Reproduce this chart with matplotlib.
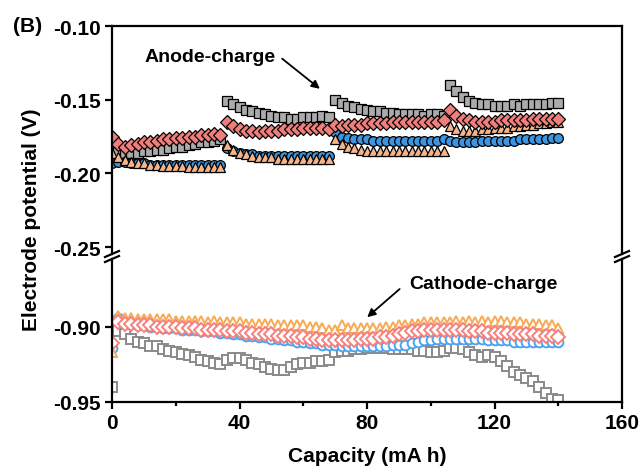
import matplotlib
matplotlib.use("Agg")
import matplotlib.pyplot as plt
from matplotlib.lines import Line2D

plt.rcParams["font.family"] = ["Liberation Sans", "DejaVu Sans"]
plt.rcParams["font.weight"] = "bold"
plt.rcParams["font.size"] = 15

# capacity grid (mA h), shared by all series
cap = [0, 2, 4, 6, 8, 10, 12, 14, 16, 18, 20, 22, 24, 26, 28, 30, 32, 34,
       36, 38, 40, 42, 44, 46, 48, 50, 52, 54, 56, 58, 60, 62, 64, 66, 68,
       70, 72, 74, 76, 78, 80, 82, 84, 86, 88, 90, 92, 94, 96, 98, 100, 102, 104,
       106, 108, 110, 112, 114, 116, 118, 120, 122, 124, 126, 128, 130, 132, 134, 136, 138, 140]

# anode-charge potentials (V), four cycles of ~35 mA h each
anode_gray = [-0.183, -0.185, -0.186, -0.186, -0.186, -0.185, -0.185, -0.184, -0.184, -0.183, -0.182, -0.182, -0.181, -0.180, -0.179, -0.179, -0.178, -0.177,
              -0.151, -0.153, -0.155, -0.157, -0.158, -0.159, -0.160, -0.161, -0.162, -0.162, -0.163, -0.163, -0.162, -0.162, -0.162, -0.161, -0.162,
              -0.150, -0.152, -0.154, -0.155, -0.156, -0.157, -0.158, -0.158, -0.159, -0.159, -0.160, -0.160, -0.160, -0.160, -0.161, -0.160, -0.160, -0.161,
              -0.140, -0.144, -0.148, -0.151, -0.152, -0.153, -0.153, -0.154, -0.154, -0.154, -0.153, -0.154, -0.153, -0.153, -0.153, -0.153, -0.152, -0.152]
anode_red = [-0.175, -0.180, -0.182, -0.181, -0.180, -0.179, -0.179, -0.178, -0.177, -0.177, -0.176, -0.176, -0.175, -0.175, -0.174, -0.174, -0.173, -0.174,
             -0.165, -0.168, -0.170, -0.171, -0.171, -0.172, -0.171, -0.171, -0.171, -0.170, -0.170, -0.170, -0.169, -0.169, -0.169, -0.169, -0.170,
             -0.167, -0.168, -0.167, -0.167, -0.167, -0.166, -0.166, -0.166, -0.166, -0.165, -0.165, -0.165, -0.165, -0.165, -0.165, -0.165, -0.165, -0.164,
             -0.157, -0.161, -0.163, -0.164, -0.165, -0.165, -0.165, -0.165, -0.164, -0.164, -0.164, -0.164, -0.164, -0.163, -0.163, -0.163, -0.163, -0.163]
anode_blue = [-0.193, -0.192, -0.192, -0.193, -0.193, -0.193, -0.194, -0.194, -0.194, -0.194, -0.194, -0.194, -0.194, -0.194, -0.194, -0.194, -0.194, -0.194,
              -0.183, -0.185, -0.186, -0.187, -0.187, -0.188, -0.188, -0.188, -0.188, -0.188, -0.188, -0.188, -0.188, -0.188, -0.188, -0.188, -0.188,
              -0.172, -0.175, -0.176, -0.177, -0.177, -0.177, -0.178, -0.178, -0.178, -0.178, -0.178, -0.178, -0.178, -0.178, -0.178, -0.178, -0.178, -0.177,
              -0.178, -0.179, -0.179, -0.179, -0.179, -0.178, -0.178, -0.178, -0.178, -0.178, -0.178, -0.177, -0.177, -0.177, -0.177, -0.177, -0.176, -0.176]
anode_orange = [-0.186, -0.189, -0.191, -0.192, -0.193, -0.193, -0.194, -0.194, -0.195, -0.195, -0.195, -0.195, -0.196, -0.196, -0.196, -0.196, -0.196, -0.196,
                -0.181, -0.184, -0.186, -0.187, -0.188, -0.189, -0.189, -0.189, -0.190, -0.190, -0.190, -0.190, -0.190, -0.190, -0.190, -0.190, -0.190,
                -0.177, -0.180, -0.182, -0.183, -0.184, -0.185, -0.185, -0.185, -0.185, -0.185, -0.185, -0.185, -0.185, -0.185, -0.185, -0.185, -0.185, -0.185,
                -0.168, -0.170, -0.171, -0.171, -0.171, -0.170, -0.170, -0.169, -0.169, -0.169, -0.168, -0.168, -0.167, -0.167, -0.166, -0.166, -0.165, -0.165]

# cathode-charge potentials (V)
cathode_gray = [-0.940, -0.903, -0.905, -0.908, -0.910, -0.911, -0.913, -0.913, -0.915, -0.916, -0.917, -0.918, -0.919, -0.920, -0.922, -0.923, -0.924, -0.925,
                -0.922, -0.921, -0.921, -0.922, -0.924, -0.925, -0.927, -0.928, -0.929, -0.929, -0.927, -0.925, -0.924, -0.924, -0.923, -0.923, -0.922,
                -0.917, -0.916, -0.916, -0.915, -0.915, -0.914, -0.914, -0.914, -0.914, -0.915, -0.915, -0.915, -0.915, -0.916, -0.916, -0.917, -0.917, -0.916,
                -0.914, -0.914, -0.915, -0.917, -0.919, -0.920, -0.919, -0.920, -0.923, -0.926, -0.930, -0.932, -0.934, -0.936, -0.940, -0.944, -0.948, -0.949]
cathode_red = [-0.911, -0.897, -0.898, -0.898, -0.899, -0.899, -0.899, -0.900, -0.900, -0.900, -0.900, -0.901, -0.901, -0.901, -0.902, -0.902, -0.902, -0.902,
               -0.903, -0.903, -0.903, -0.904, -0.904, -0.905, -0.905, -0.905, -0.906, -0.906, -0.906, -0.907, -0.907, -0.908, -0.908, -0.909, -0.909,
               -0.909, -0.909, -0.909, -0.909, -0.908, -0.908, -0.908, -0.907, -0.907, -0.906, -0.905, -0.904, -0.903, -0.903, -0.902, -0.902, -0.902, -0.902,
               -0.902, -0.902, -0.902, -0.903, -0.903, -0.903, -0.904, -0.904, -0.904, -0.904, -0.905, -0.905, -0.905, -0.905, -0.906, -0.906, -0.906, -0.907]
cathode_blue = [-0.914, -0.894, -0.897, -0.898, -0.899, -0.899, -0.900, -0.900, -0.901, -0.901, -0.901, -0.902, -0.902, -0.902, -0.903, -0.903, -0.903, -0.904,
                -0.904, -0.905, -0.905, -0.906, -0.906, -0.907, -0.907, -0.908, -0.908, -0.909, -0.909, -0.910, -0.910, -0.911, -0.911, -0.912, -0.912,
                -0.912, -0.913, -0.913, -0.913, -0.913, -0.913, -0.913, -0.913, -0.913, -0.912, -0.912, -0.912, -0.911, -0.910, -0.909, -0.909, -0.908, -0.908,
                -0.908, -0.908, -0.908, -0.908, -0.908, -0.908, -0.909, -0.909, -0.909, -0.909, -0.910, -0.910, -0.910, -0.910, -0.910, -0.910, -0.910, -0.910]
cathode_orange = [-0.917, -0.893, -0.894, -0.894, -0.895, -0.895, -0.895, -0.895, -0.895, -0.895, -0.896, -0.896, -0.896, -0.896, -0.896, -0.897, -0.896, -0.897,
                  -0.897, -0.897, -0.897, -0.898, -0.898, -0.898, -0.898, -0.898, -0.899, -0.899, -0.899, -0.899, -0.899, -0.900, -0.900, -0.901, -0.902,
                  -0.902, -0.899, -0.901, -0.901, -0.901, -0.901, -0.901, -0.901, -0.900, -0.900, -0.899, -0.899, -0.898, -0.898, -0.897, -0.897, -0.897, -0.897,
                  -0.897, -0.896, -0.897, -0.896, -0.897, -0.896, -0.897, -0.896, -0.896, -0.897, -0.897, -0.897, -0.898, -0.898, -0.898, -0.899, -0.899, -0.901]

x_ticks = [0, 40, 80, 120, 160]
top_ticks = [-0.25, -0.20, -0.15, -0.10]
bottom_ticks = [-0.95, -0.90]

W, H = 640, 477
fig = plt.figure(figsize=(6.4, 4.77), dpi=100)
left, right = 112 / W, 622 / W
ax_top = fig.add_axes([left, 1 - 255 / H, right - left, (255 - 27) / H])
ax_bot = fig.add_axes([left, 1 - 403 / H, right - left, (403 - 260) / H])

# anode: filled markers with black edges
filled = [
    (anode_gray, "s", "#ababab", 7.0),
    (anode_blue, "o", "#3d95e0", 7.0),
    (anode_orange, "^", "#f5b48c", 7.5),
    (anode_red, "D", "#f07f7c", 6.8),
]
for vals, m, c, ms in filled:
    ax_top.plot(cap, vals, ls="none", marker=m, ms=ms, mfc=c, mec="black", mew=0.9)

# cathode: hollow markers
hollow = [
    (cathode_gray, "s", "#8a8a8a", 7.0),
    (cathode_blue, "o", "#4ea3ee", 7.0),
    (cathode_orange, "^", "#f8aa52", 7.5),
    (cathode_red, "D", "#f5817f", 6.8),
]
for vals, m, c, ms in hollow:
    ax_bot.plot(cap, vals, ls="none", marker=m, ms=ms, mfc="white", mec=c, mew=1.4)

for ax in (ax_top, ax_bot):
    ax.set_xlim(0, 160)
    for s in ax.spines.values():
        s.set_linewidth(1.6)
    ax.tick_params(direction="out", width=1.6, length=5, labelsize=15, pad=3)
    ax.tick_params(which="minor", direction="out", width=1.6, length=3)

ax_top.set_ylim(-0.2547, -0.10)
ax_top.set_yticks(top_ticks)
ax_top.set_yticklabels([f"{t:.2f}" for t in top_ticks])
ax_top.spines["bottom"].set_visible(False)
ax_top.tick_params(axis="x", which="both", bottom=False, labelbottom=False)

ax_bot.set_ylim(-0.95, -0.8547)
ax_bot.set_yticks(bottom_ticks)
ax_bot.set_yticklabels([f"{t:.2f}" for t in bottom_ticks])
ax_bot.spines["top"].set_visible(False)
ax_bot.set_xticks(x_ticks)
ax_bot.set_xticks([20, 60, 100, 140], minor=True)
ax_bot.set_xlabel("Capacity (mA h)", fontsize=15, fontweight="bold", labelpad=10)

# axis break marks on both side spines
for xp in (112, 622):
    for yp in (255, 260):
        fig.add_artist(Line2D([(xp - 7) / W, (xp + 7) / W], [1 - (yp + 3) / H, 1 - (yp - 3) / H],
                              color="black", lw=1.6, transform=fig.transFigure))

ax_top.text(30.7, -0.1204, "Anode-charge", ha="center", va="center", fontsize=14, fontweight="bold")
ax_top.annotate("", xy=(65.9, -0.1438), xytext=(52.7, -0.121),
                arrowprops=dict(arrowstyle="-|>", color="black", lw=1.3, mutation_scale=12))
ax_bot.text(116.5, -0.8713, "Cathode-charge", ha="center", va="center", fontsize=14, fontweight="bold")
ax_bot.annotate("", xy=(79.4, -0.8947), xytext=(90.9, -0.8735),
                arrowprops=dict(arrowstyle="-|>", color="black", lw=1.3, mutation_scale=12))

fig.text(13 / W, 1 - 27 / H, "(B)", ha="left", va="center", fontsize=15, fontweight="bold")
fig.text(32 / W, 1 - 220 / H, "Electrode potential (V)", rotation=90, ha="center", va="center",
         fontsize=15, fontweight="bold")

fig.savefig("out.png", dpi=100)
